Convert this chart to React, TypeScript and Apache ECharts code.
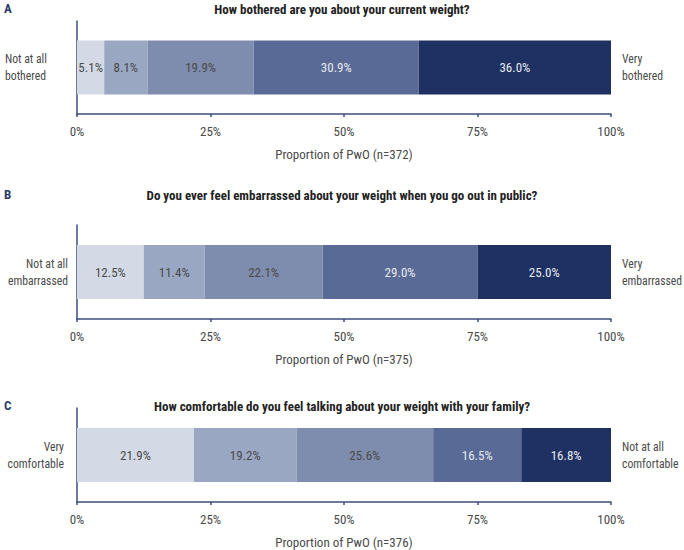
import React, { useEffect, useRef } from "react";
import * as echarts from "echarts";

const levels = ["L1", "L2", "L3", "L4", "L5"];
const panelLetters = ["A", "B", "C"];
const questions = [
  "How bothered are you about your current weight?",
  "Do you ever feel embarrassed about your weight when you go out in public?",
  "How comfortable do you feel talking about your weight with your family?",
];
const valuesA = [5.1, 8.1, 19.9, 30.9, 36.0];
const valuesB = [12.5, 11.4, 22.1, 29.0, 25.0];
const valuesC = [21.9, 19.2, 25.6, 16.5, 16.8];
const axisNames = [
  "Proportion of PwO (n=372)",
  "Proportion of PwO (n=375)",
  "Proportion of PwO (n=376)",
];
const leftLabels = ["Not at all\nbothered", "Not at all\nembarrassed", "Very\ncomfortable"];
const rightLabels = ["Very\nbothered", "Very\nembarrassed", "Not at all\ncomfortable"];
const tickValues = [0, 25, 50, 75, 100];

const colors = ["#d3dae6", "#99a7c3", "#7e8cae", "#5a6a96", "#1f3163"];
const labelColors = ["#4a4a4a", "#4a4a4a", "#4a4a4a", "#e6e9f0", "#e6e9f0"];
const FONT = "'Liberation Sans Narrow', 'Roboto Condensed', 'DejaVu Sans Condensed', sans-serif";
const AXIS_COLOR = "#3d4c7c";

const grids = [
  { top: 21, bottom: 114 },
  { top: 225, bottom: 319 },
  { top: 408, bottom: 502 },
];
const titleTops = [3, 189, 400];
const leftAlign = [
  { x: 5, align: "left" },
  { x: 68, align: "right" },
  { x: 64, align: "right" },
];

export default function App() {
  const ref = useRef<HTMLDivElement>(null);
  useEffect(() => {
    if (!ref.current) return;
    const chart = echarts.init(ref.current, null, { renderer: "svg" });
    const allValues = [valuesA, valuesB, valuesC];

    const series: any[] = [];
    allValues.forEach((vals, p) => {
      vals.forEach((v, i) => {
        series.push({
          type: "bar",
          name: levels[i],
          stack: "s" + p,
          xAxisIndex: p,
          yAxisIndex: p,
          barWidth: 54,
          data: [v],
          itemStyle: { color: colors[i] },
          label: {
            show: true,
            position: "inside",
            formatter: (d: any) => d.value.toFixed(1) + "%",
            color: labelColors[i],
            fontFamily: FONT,
            fontSize: 13,
          },
        });
      });
    });

    const graphic: any[] = [];
    grids.forEach((g, p) => {
      const cy = (g.top + g.bottom) / 2;
      graphic.push({
        type: "text",
        left: 4,
        top: titleTops[p] - 1,
        style: {
          text: panelLetters[p],
          font: `bold 13px ${FONT}`,
          fill: "#2b3a6b",
        },
      });
      graphic.push({
        type: "text",
        x: leftAlign[p].x,
        y: cy,
        scaleX: 0.9,
        style: {
          text: leftLabels[p],
          font: `13px ${FONT}`,
          fill: "#4a4a4a",
          align: leftAlign[p].align,
          verticalAlign: "middle",
          lineHeight: 17,
        },
      });
      graphic.push({
        type: "text",
        x: 622,
        y: cy,
        scaleX: 0.9,
        style: {
          text: rightLabels[p],
          font: `13px ${FONT}`,
          fill: "#4a4a4a",
          align: "left",
          verticalAlign: "middle",
          lineHeight: 17,
        },
      });
    });

    chart.setOption({
      animation: false,
      title: questions.map((q, p) => ({
        text: q,
        left: "center",
        top: titleTops[p],
        textStyle: { fontFamily: FONT, fontSize: 13, fontWeight: "bold", color: "#222" },
        padding: 0,
      })),
      grid: grids.map((g) => ({
        left: 77,
        right: 73,
        top: g.top,
        height: g.bottom - g.top,
        containLabel: false,
      })),
      xAxis: grids.map((_, p) => ({
        type: "value",
        gridIndex: p,
        min: tickValues[0],
        max: tickValues[tickValues.length - 1],
        interval: 25,
        name: axisNames[p],
        nameLocation: "middle",
        nameGap: 34,
        nameTextStyle: { fontFamily: FONT, fontSize: 13, color: "#4a4a4a" },
        axisLine: { show: true, lineStyle: { color: AXIS_COLOR, width: 1.5 } },
        axisTick: { show: true, length: 3, lineStyle: { color: AXIS_COLOR, width: 1.5 } },
        axisLabel: {
          formatter: "{value}%",
          fontFamily: FONT,
          fontSize: 13,
          color: "#4a4a4a",
          margin: 11,
        },
        splitLine: { show: false },
      })),
      yAxis: grids.map((_, p) => ({
        type: "category",
        gridIndex: p,
        data: [questions[p]],
        axisLine: { show: true, lineStyle: { color: AXIS_COLOR, width: 1.5 } },
        axisTick: { show: false },
        axisLabel: { show: false },
      })),
      series,
      graphic,
    });
    return () => chart.dispose();
  }, []);
  return (
    <div
      ref={ref}
      style={{ position: "absolute", left: 0, top: 0, width: 684, height: 550, background: "#fff" }}
    />
  );
}
